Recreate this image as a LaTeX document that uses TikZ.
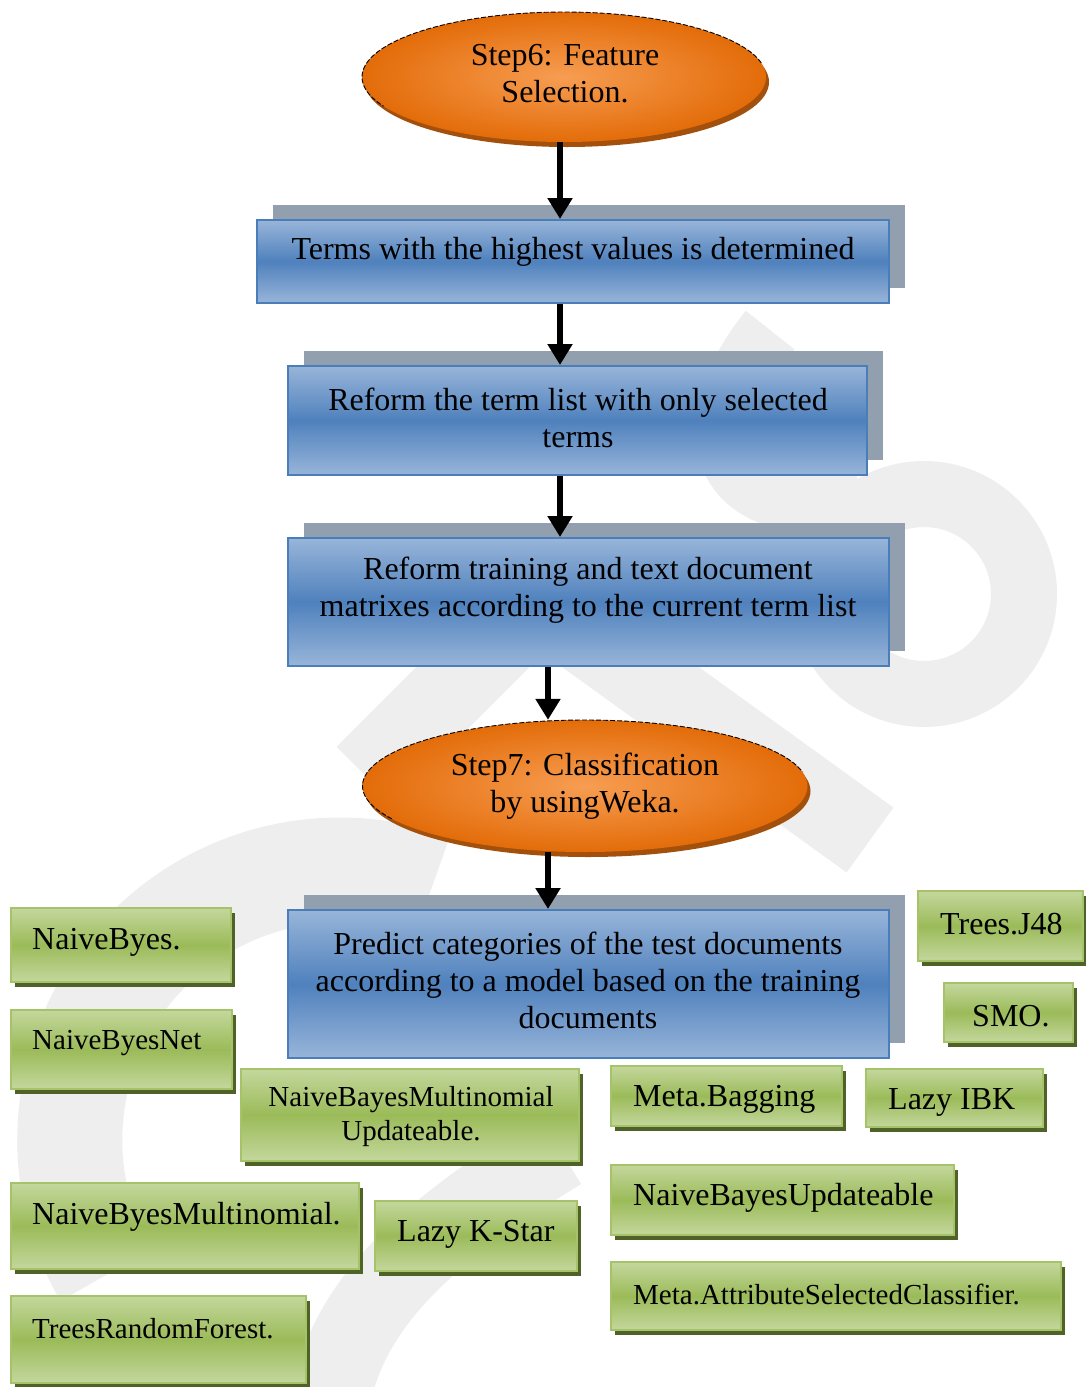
\documentclass[tikz,border=0pt]{standalone}
\usepackage{fontspec}
\setmainfont{Liberation Serif}
\usetikzlibrary{shapes.geometric,arrows.meta,shadows}
\definecolor{wmgray}{HTML}{EEEEEE}
\definecolor{bluetop}{HTML}{98B5D9}
\definecolor{bluemid}{HTML}{4F81BD}
\definecolor{blueedge}{HTML}{4A7EBB}
\definecolor{slate}{HTML}{929FAE}
\definecolor{greentop}{HTML}{C4D79D}
\definecolor{greenmid}{HTML}{9BBB59}
\definecolor{greenedge}{HTML}{A6C36A}
\definecolor{greenshadow}{HTML}{4F6228}
\definecolor{orin}{HTML}{F79D52}
\definecolor{orout}{HTML}{E36C09}
\definecolor{orshadow}{HTML}{A3500C}
\begin{document}
\begin{tikzpicture}[x=1pt,y=-1pt,
  bluebox/.style={rectangle, draw=blueedge, line width=2pt, top color=bluetop, bottom color=bluetop, middle color=bluemid, inner sep=0pt, general shadow={fill=slate, shadow xshift=16pt, shadow yshift=15pt}},
  greenbox/.style={rectangle, draw=greenedge, line width=2.5pt, top color=greentop, bottom color=greentop, middle color=greenmid, inner sep=0pt, general shadow={fill=greenshadow, shadow xshift=4pt, shadow yshift=-5pt}},
  stepell/.style={ellipse, inner sep=0pt, inner color=orin, outer color=orout, general shadow={fill=orshadow, shadow xshift=3pt, shadow yshift=-5pt}},
  txt/.style={font=\fontsize{32}{37}\selectfont, align=center, inner sep=0pt},
  gtxt/.style={font=\fontsize{32}{34}\selectfont, align=left, inner sep=0pt, anchor=west},
  gsmall/.style={font=\fontsize{29}{34}\selectfont},
  arr/.style={line width=6pt, -{Triangle[width=24pt,length=21pt]}},
  wm/.style={draw=wmgray, line cap=butt},
  dashline/.style={draw=black, line width=0.9pt, dash pattern=on 5pt off 2pt}
]
\fill[white] (0,0) rectangle (1086,1387);
\useasboundingbox (0,0) rectangle (1086,1387);

% watermark
\begin{scope}
\clip (0,0) rectangle (1086,1387);
\draw[wm, line width=66pt] (924,594) circle[radius=100];
\draw[wm, line width=62pt] (770,330) .. controls (690,430) and (720,520) .. (860,500);
\draw[wm, line width=80pt, line join=miter] (365,775) -- (539,601) -- (870,840);
\draw[wm, line width=105pt] (106,1275) arc[start angle=150, end angle=290, radius=270];
\draw[wm, line width=80pt] (560,1150) .. controls (430,1230) and (350,1300) .. (330,1400);
\end{scope}

% flow nodes
\node[stepell, minimum width=404pt, minimum height=130pt] (e1) at (564,77) {};
\begin{scope}
\clip (330,0) -- (800,0) -- (800,60) -- (564,77) -- (330,115) -- cycle;
\draw[dashline] (564,77) ellipse [x radius=202, y radius=65];
\end{scope}

\node[bluebox, minimum width=632pt, minimum height=83pt] (b1) at (573,261.5) {};
\node[bluebox, minimum width=579pt, minimum height=109pt] (b2) at (577.5,420.5) {};
\node[bluebox, minimum width=601pt, minimum height=128pt] (b3) at (588.5,602) {};

\node[stepell, minimum width=445pt, minimum height=132pt] (e2) at (585,786) {};
\begin{scope}
\clip (330,700) -- (830,700) -- (830,770) -- (585,786) -- (330,830) -- cycle;
\draw[dashline] (585,786) ellipse [x radius=222.5, y radius=66];
\end{scope}

\node[bluebox, minimum width=601pt, minimum height=148pt] (b4) at (588.5,984) {};

% green classifier boxes
\node[greenbox, minimum width=220pt, minimum height=74pt] (g1) at (121,945) {};
\node[greenbox, minimum width=221pt, minimum height=79pt] (g2) at (121.5,1049.5) {};
\node[greenbox, minimum width=338pt, minimum height=92pt] (g3) at (410,1115) {};
\node[greenbox, minimum width=348pt, minimum height=86pt] (g4) at (185,1226) {};
\node[greenbox, minimum width=202pt, minimum height=70pt] (g5) at (476,1236) {};
\node[greenbox, minimum width=295pt, minimum height=87pt] (g6) at (158.5,1339.5) {};
\node[greenbox, minimum width=165pt, minimum height=70pt] (g7) at (1000.5,926) {};
\node[greenbox, minimum width=129pt, minimum height=59pt] (g8) at (1008.5,1012.5) {};
\node[greenbox, minimum width=231pt, minimum height=60pt] (g9) at (726.5,1096) {};
\node[greenbox, minimum width=177pt, minimum height=58pt] (g10) at (954.5,1098) {};
\node[greenbox, minimum width=343pt, minimum height=70pt] (g11) at (782.5,1200) {};
\node[greenbox, minimum width=450pt, minimum height=68pt] (g12) at (836,1296) {};

% arrows
\draw[arr] ([xshift=-4pt]e1.south) -- ([xshift=-13pt]b1.north);
\draw[arr] ([xshift=-13pt]b1.south) -- ([xshift=-17.5pt]b2.north);
\draw[arr] ([xshift=-17.5pt]b2.south) -- ([xshift=-28.5pt]b3.north);
\draw[arr] ([xshift=-40.5pt]b3.south) -- ([xshift=-37pt]e2.north);
\draw[arr] ([xshift=-37pt]e2.south) -- ([xshift=-40.5pt]b4.north);

% texts
\node[txt] (e1t) at (565,74) {Step6: Feature\\Selection.};
\node[txt] (b1t) at (573,252) {Terms with the highest values is determined};
\node[txt] (b2t) at (578,418) {Reform the term list with only selected\\terms};
\node[txt] (b3t) at (588,590) {Reform training and text document\\matrixes according to the current term list};
\node[txt] (e2t) at (585,786) {Step7: Classification\\by usingWeka.};
\node[txt] (b4t) at (588,980) {Predict categories of the test documents\\according to a model based on the training\\documents};

\node[gtxt] (g1t) at (32,942) {NaiveByes.};
\node[gtxt, gsmall] (g2t) at (32,1043) {NaiveByesNet};
\node[txt, gsmall, font=\fontsize{29}{34}\selectfont] (g3t) at (411,1117) {NaiveBayesMultinomial\\Updateable.};
\node[gtxt] (g4t) at (32,1217) {NaiveByesMultinomial.};
\node[gtxt] (g5t) at (397,1234) {Lazy K-Star};
\node[gtxt, gsmall] (g6t) at (32,1329) {TreesRandomForest.};
\node[gtxt] (g7t) at (940,924) {Trees.J48};
\node[gtxt] (g8t) at (972,1016) {SMO.};
\node[gtxt] (g9t) at (633,1099) {Meta.Bagging};
\node[gtxt] (g10t) at (888,1102) {Lazy IBK};
\node[gtxt] (g11t) at (633,1198) {NaiveBayesUpdateable};
\node[gtxt, gsmall] (g12t) at (633,1294) {Meta.AttributeSelectedClassifier.};
\end{tikzpicture}
\end{document}
